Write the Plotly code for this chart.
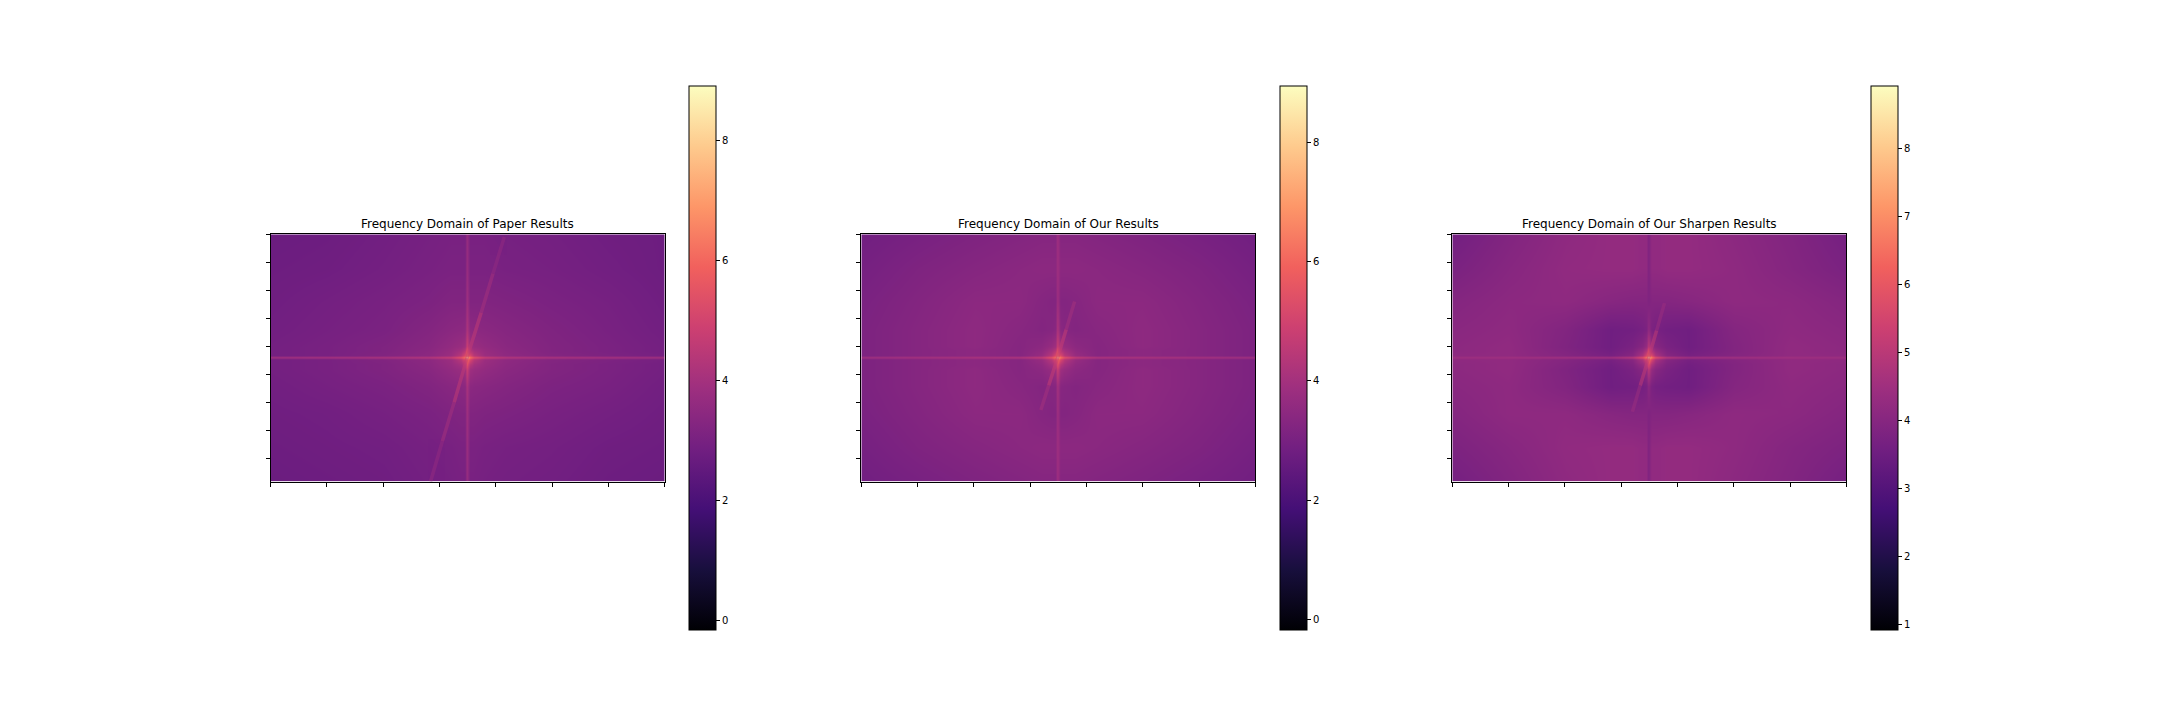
import plotly.graph_objects as go
from plotly.colors import sample_colorscale

# grid of the log-magnitude spectra (cell centres, image pixel units)
X_COLS = [0, 100, 200, 280, 320, 337, 345, 349, 353, 361, 380, 420, 500, 600, 700]
Y_ROWS = [0, 60, 120, 170, 200, 208, 216, 220, 224, 232, 242, 272, 320, 380, 442]

PAPER_Z = [
    [2.70, 2.75, 2.85, 2.95, 3.00, 3.00, 3.00, 3.70, 3.00, 3.00, 3.00, 2.95, 2.90, 2.80, 2.75],
    [2.75, 2.80, 2.90, 3.00, 3.05, 3.05, 3.05, 3.75, 3.05, 3.05, 3.05, 3.00, 2.95, 2.85, 2.75],
    [2.80, 2.90, 3.00, 3.10, 3.20, 3.20, 3.20, 3.90, 3.20, 3.20, 3.20, 3.15, 3.05, 2.95, 2.80],
    [2.85, 2.95, 3.05, 3.25, 3.40, 3.45, 3.50, 4.20, 3.50, 3.45, 3.40, 3.30, 3.15, 3.00, 2.85],
    [2.90, 3.00, 3.15, 3.35, 3.60, 3.75, 3.90, 4.80, 3.90, 3.75, 3.60, 3.40, 3.20, 3.05, 2.90],
    [2.90, 3.00, 3.15, 3.40, 3.70, 4.00, 4.40, 5.40, 4.40, 4.00, 3.70, 3.45, 3.20, 3.05, 2.90],
    [2.90, 3.00, 3.20, 3.45, 3.80, 4.40, 5.20, 6.20, 5.20, 4.40, 3.80, 3.50, 3.25, 3.10, 2.95],
    [3.90, 4.00, 4.10, 4.30, 4.70, 5.40, 6.20, 7.80, 6.20, 5.40, 4.70, 4.30, 4.10, 4.00, 3.90],
    [2.90, 3.00, 3.20, 3.45, 3.80, 4.40, 5.20, 6.20, 5.20, 4.40, 3.80, 3.50, 3.25, 3.10, 2.95],
    [2.90, 3.00, 3.15, 3.40, 3.70, 4.00, 4.40, 5.40, 4.40, 4.00, 3.70, 3.45, 3.20, 3.05, 2.90],
    [2.90, 3.00, 3.15, 3.35, 3.60, 3.75, 3.90, 4.80, 3.90, 3.75, 3.60, 3.40, 3.20, 3.05, 2.90],
    [2.85, 2.95, 3.05, 3.20, 3.35, 3.40, 3.45, 4.10, 3.45, 3.40, 3.35, 3.25, 3.10, 3.00, 2.85],
    [2.80, 2.85, 2.95, 3.05, 3.15, 3.20, 3.20, 3.90, 3.20, 3.20, 3.15, 3.10, 3.00, 2.90, 2.80],
    [2.75, 2.80, 2.85, 2.95, 3.00, 3.05, 3.05, 3.80, 3.05, 3.05, 3.00, 2.95, 2.90, 2.80, 2.75],
    [2.70, 2.75, 2.80, 2.90, 2.95, 3.00, 3.00, 3.70, 3.00, 3.00, 2.95, 2.90, 2.85, 2.75, 2.70],
]

OURS_Z = [
    [2.85, 3.00, 3.15, 3.25, 3.30, 3.30, 3.30, 3.90, 3.30, 3.30, 3.30, 3.25, 3.15, 3.00, 2.85],
    [2.95, 3.15, 3.30, 3.40, 3.45, 3.45, 3.45, 3.90, 3.45, 3.45, 3.45, 3.40, 3.30, 3.15, 2.95],
    [3.05, 3.25, 3.45, 3.45, 3.30, 3.25, 3.25, 3.90, 3.25, 3.25, 3.30, 3.45, 3.45, 3.25, 3.05],
    [3.10, 3.30, 3.50, 3.35, 3.25, 3.30, 3.40, 4.20, 3.40, 3.30, 3.25, 3.35, 3.50, 3.30, 3.10],
    [3.10, 3.30, 3.50, 3.30, 3.45, 3.70, 3.90, 4.80, 3.90, 3.70, 3.45, 3.30, 3.50, 3.30, 3.10],
    [3.10, 3.30, 3.45, 3.30, 3.55, 4.00, 4.40, 5.40, 4.40, 4.00, 3.55, 3.30, 3.45, 3.30, 3.10],
    [3.10, 3.30, 3.45, 3.30, 3.70, 4.40, 5.20, 6.20, 5.20, 4.40, 3.70, 3.30, 3.45, 3.30, 3.10],
    [3.90, 4.00, 4.10, 4.20, 4.60, 5.40, 6.20, 7.80, 6.20, 5.40, 4.60, 4.20, 4.10, 4.00, 3.90],
    [3.10, 3.30, 3.45, 3.30, 3.70, 4.40, 5.20, 6.20, 5.20, 4.40, 3.70, 3.30, 3.45, 3.30, 3.10],
    [3.10, 3.30, 3.45, 3.30, 3.55, 4.00, 4.40, 5.40, 4.40, 4.00, 3.55, 3.30, 3.45, 3.30, 3.10],
    [3.10, 3.30, 3.50, 3.30, 3.45, 3.70, 3.90, 4.80, 3.90, 3.70, 3.45, 3.30, 3.50, 3.30, 3.10],
    [3.10, 3.30, 3.50, 3.35, 3.25, 3.30, 3.35, 4.00, 3.35, 3.30, 3.25, 3.35, 3.50, 3.30, 3.10],
    [3.05, 3.25, 3.45, 3.45, 3.30, 3.25, 3.25, 3.90, 3.25, 3.25, 3.30, 3.45, 3.45, 3.25, 3.05],
    [2.95, 3.15, 3.30, 3.40, 3.45, 3.45, 3.45, 3.90, 3.45, 3.45, 3.45, 3.40, 3.30, 3.15, 2.95],
    [2.85, 3.00, 3.15, 3.25, 3.30, 3.30, 3.30, 3.90, 3.30, 3.30, 3.30, 3.25, 3.15, 3.00, 2.85],
]

SHARPEN_Z = [
    [3.60, 3.90, 4.15, 4.25, 4.25, 4.20, 4.20, 3.85, 4.20, 4.20, 4.25, 4.25, 4.10, 3.90, 3.65],
    [3.75, 4.00, 4.20, 4.25, 4.25, 4.20, 4.20, 3.85, 4.20, 4.20, 4.25, 4.25, 4.15, 3.95, 3.75],
    [3.95, 4.10, 4.15, 4.00, 3.95, 3.95, 3.95, 3.85, 3.95, 3.95, 3.95, 4.00, 4.15, 4.10, 3.95],
    [4.05, 4.15, 3.90, 3.55, 3.60, 3.70, 3.80, 4.20, 3.80, 3.70, 3.60, 3.55, 3.95, 4.15, 4.05],
    [4.10, 4.20, 3.85, 3.55, 3.75, 4.00, 4.30, 5.00, 4.30, 4.00, 3.75, 3.55, 3.90, 4.20, 4.10],
    [4.10, 4.20, 3.90, 3.60, 3.85, 4.30, 4.80, 5.70, 4.80, 4.30, 3.85, 3.60, 3.90, 4.20, 4.10],
    [4.15, 4.20, 3.95, 3.70, 4.00, 4.70, 5.60, 6.60, 5.60, 4.70, 4.00, 3.70, 3.95, 4.20, 4.15],
    [4.45, 4.50, 4.50, 4.50, 4.90, 5.70, 6.60, 8.20, 6.60, 5.70, 4.90, 4.50, 4.50, 4.50, 4.45],
    [4.15, 4.20, 3.95, 3.70, 4.00, 4.70, 5.60, 6.60, 5.60, 4.70, 4.00, 3.70, 3.95, 4.20, 4.15],
    [4.10, 4.20, 3.90, 3.60, 3.85, 4.30, 4.80, 5.70, 4.80, 4.30, 3.85, 3.60, 3.90, 4.20, 4.10],
    [4.10, 4.20, 3.85, 3.55, 3.75, 4.00, 4.30, 5.00, 4.30, 4.00, 3.75, 3.55, 3.90, 4.20, 4.10],
    [4.05, 4.15, 3.90, 3.55, 3.60, 3.65, 3.75, 4.10, 3.75, 3.65, 3.60, 3.55, 3.95, 4.15, 4.05],
    [3.95, 4.15, 4.15, 4.00, 3.95, 3.95, 3.95, 3.85, 3.95, 3.95, 3.95, 4.00, 4.15, 4.10, 3.95],
    [3.80, 4.00, 4.20, 4.25, 4.25, 4.20, 4.20, 3.85, 4.20, 4.20, 4.25, 4.25, 4.15, 3.95, 3.80],
    [3.65, 3.90, 4.15, 4.25, 4.25, 4.20, 4.20, 3.85, 4.20, 4.20, 4.25, 4.25, 4.10, 3.90, 3.65],
]

# diagonal streak through the centre: points and value of each segment
PAPER_STREAK_X = [284, 305, 326, 349, 374, 395, 415]
PAPER_STREAK_Y = [442, 370, 300, 220, 140, 70, 5]
PAPER_STREAK_V = [3.6, 4.0, 4.6, 4.6, 4.0, 3.6]

OURS_STREAK_X = [319, 333, 349, 364, 379]
OURS_STREAK_Y = [314, 270, 220, 170, 120]
OURS_STREAK_V = [4.0, 4.7, 4.7, 4.0]

SHARPEN_STREAK_X = [320, 334, 349, 363, 377]
SHARPEN_STREAK_Y = [317, 270, 220, 172, 123]
SHARPEN_STREAK_V = [4.4, 5.1, 5.1, 4.4]

TITLES = ["Frequency Domain of Paper Results",
          "Frequency Domain of Our Results",
          "Frequency Domain of Our Sharpen Results"]
Z_RANGES = [(-0.17, 8.91), (-0.18, 8.94), (0.92, 8.91)]
CBAR_DTICK = [2, 2, 1]

IMG_W = 700
IMG_H = 442
W, H = 2160, 720
BODY = 8  # page margin around the plot div
PANEL_LEFT = [270.7 - BODY, 861.3 - BODY, 1452.3 - BODY]
PANEL_W = 394.0
PANEL_TOP, PANEL_BOTTOM = 234.3 - BODY, 481.6 - BODY
CBAR_OFFSET = 418.6
CBAR_TOP, CBAR_BOTTOM = 86.3 - BODY, 630.3 - BODY
TITLE_Y = 224 - BODY

FONT = "DejaVu Sans"

panels = [
    (PAPER_Z, PAPER_STREAK_X, PAPER_STREAK_Y, PAPER_STREAK_V),
    (OURS_Z, OURS_STREAK_X, OURS_STREAK_Y, OURS_STREAK_V),
    (SHARPEN_Z, SHARPEN_STREAK_X, SHARPEN_STREAK_Y, SHARPEN_STREAK_V),
]

fig = go.Figure()
layout = {}
annotations = []

for i, (z, sx, sy, sv) in enumerate(panels):
    n = "" if i == 0 else str(i + 1)
    zmin, zmax = Z_RANGES[i]
    left = PANEL_LEFT[i] / W
    right = (PANEL_LEFT[i] + PANEL_W) / W
    cb_left = (PANEL_LEFT[i] + CBAR_OFFSET) / W

    fig.add_trace(go.Heatmap(
        x=X_COLS, y=Y_ROWS, z=z,
        colorscale="Magma", zmin=zmin, zmax=zmax,
        zsmooth="best",
        xaxis="x" + n, yaxis="y" + n,
        hoverinfo="skip",
        colorbar=dict(
            x=cb_left, xanchor="left", xpad=0,
            y=(H - CBAR_BOTTOM) / H, yanchor="bottom", ypad=0,
            len=(CBAR_BOTTOM - CBAR_TOP) / H, lenmode="fraction",
            thickness=27, thicknessmode="pixels",
            outlinecolor="black", outlinewidth=1,
            ticks="outside", ticklen=4, tickwidth=1, tickcolor="black",
            tick0=0, dtick=CBAR_DTICK[i],
            tickfont=dict(family=FONT, size=10, color="black"),
        ),
    ))

    # streak segments, each coloured from the same scale
    for k in range(len(sv)):
        t = (sv[k] - zmin) / (zmax - zmin)
        fig.add_trace(go.Scatter(
            x=sx[k:k + 2], y=sy[k:k + 2], mode="lines",
            line=dict(color=sample_colorscale("Magma", [t])[0], width=3.5),
            opacity=0.55, showlegend=False, hoverinfo="skip",
            xaxis="x" + n, yaxis="y" + n,
        ))

    layout["xaxis" + n] = dict(
        domain=[left, right], range=[0, IMG_W], anchor="y" + n,
        showgrid=False, zeroline=False, showticklabels=False,
        ticks="outside", ticklen=4, tickwidth=1, tickcolor="black",
        tickmode="linear", tick0=0, dtick=100,
        showline=True, mirror=True, linecolor="black", linewidth=1,
    )
    layout["yaxis" + n] = dict(
        domain=[(H - PANEL_BOTTOM) / H, (H - PANEL_TOP) / H],
        range=[IMG_H, 0], anchor="x" + n,
        showgrid=False, zeroline=False, showticklabels=False,
        ticks="outside", ticklen=4, tickwidth=1, tickcolor="black",
        tickmode="linear", tick0=0, dtick=50,
        showline=True, mirror=True, linecolor="black", linewidth=1,
    )
    annotations.append(dict(
        text=TITLES[i], xref="paper", yref="paper",
        x=(left + right) / 2, y=(H - TITLE_Y) / H,
        xanchor="center", yanchor="middle", showarrow=False,
        font=dict(family=FONT, size=12, color="black"),
    ))

fig.update_layout(
    width=W, height=H,
    margin=dict(l=0, r=0, t=0, b=0),
    paper_bgcolor="white", plot_bgcolor="white",
    showlegend=False,
    annotations=annotations,
    **layout,
)

fig.write_html("out.html")
